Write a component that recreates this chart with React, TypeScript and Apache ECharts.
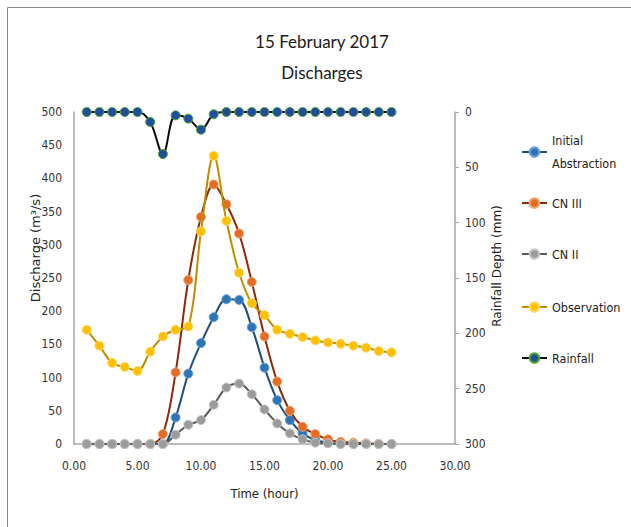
import React, { useEffect, useRef } from 'react';
import * as echarts from 'echarts';

const hours = [1, 2, 3, 4, 5, 6, 7, 8, 9, 10, 11, 12, 13, 14, 15, 16, 17, 18, 19, 20, 21, 22, 23, 24, 25];
const initialAbstraction = [0, 0, 0, 0, 0, 0, 0, 40, 106, 152, 191, 218, 217, 176, 115, 66, 36, 16, 6, 2, 0, 0, 0, 0, 0];
const cnIII = [0, 0, 0, 0, 0, 0, 15, 108, 247, 342, 391, 361, 317, 244, 162, 94, 50, 26, 15, 7, 3, 2, 1, 0, 0];
const cnII = [0, 0, 0, 0, 0, 0, 0, 14, 29, 36, 59, 85, 91, 75, 52, 31, 16, 7, 2, 1, 0, 0, 0, 0, 0];
const observation = [172, 148, 122, 116, 110, 139, 162, 172, 177, 320, 434, 336, 258, 212, 194, 172, 166, 161, 156, 153, 151, 148, 145, 140, 138];
const rainfall = [0, 0, 0, 0, 0, 9, 38, 3, 6, 16, 2, 0, 0, 0, 0, 0, 0, 0, 0, 0, 0, 0, 0, 0, 0];

const seriesNames = ['Initial Abstraction', 'CN III', 'CN II', 'Observation', 'Rainfall'];
const titleLines = ['15 February 2017', 'Discharges'];
const xName = 'Time (hour)';
const yLeftName = 'Discharge (m\u00b3/s)';
const yRightName = 'Rainfall Depth (mm)';

const narrow = '"DejaVu Sans Condensed", "Liberation Sans Narrow", Lato, sans-serif';
const calib = 'Lato, "DejaVu Sans Condensed", sans-serif';
const verd = '"DejaVu Sans", Verdana, sans-serif';

const styles = [
  { line: '#1f4e79', fill: '#2e75b6', border: '#6fa3d8' },
  { line: '#8e2a06', fill: '#e46c24', border: '#f2a36b' },
  { line: '#595959', fill: '#9b9b9b', border: '#c8c8c8' },
  { line: '#bf8f00', fill: '#ffc000', border: '#ffd966' },
  { line: '#0a0f0a', fill: '#1f4e9c', border: '#4ea72e' },
];

const dataSets = [initialAbstraction, cnIII, cnII, observation, rainfall];

export default function App() {
  const ref = useRef<HTMLDivElement>(null);
  useEffect(() => {
    document.body.style.margin = '0';
    const chart = echarts.init(ref.current!, null, { renderer: 'svg' });
    const series = seriesNames.map((name, i) => ({
      name,
      type: 'line',
      yAxisIndex: i === 4 ? 1 : 0,
      data: hours.map((h, k) => [h, dataSets[i][k]]),
      smooth: 0.35,
      symbol: 'circle',
      symbolSize: 9,
      lineStyle: { color: styles[i].line, width: 2 },
      itemStyle: { color: styles[i].fill, borderColor: styles[i].border, borderWidth: 1 },
      z: 2 + i,
    }));
    const legendCenters = [152, 203, 254, 307, 358];
    const legends = seriesNames.map((name, i) => {
      const base: any = {
        data: [name],
        left: 521,
        orient: 'vertical',
        itemWidth: 25,
        itemHeight: 12,
        itemGap: 0,
        padding: 0,
        textStyle: { fontFamily: narrow, fontSize: 12.5, color: '#222', lineHeight: 16 },
      };
      if (i === 0) {
        base.formatter = () => 'Initial\nAbstraction';
        base.textStyle = { ...base.textStyle, lineHeight: 23, padding: [23, 0, 0, 0] };
        base.top = legendCenters[i] - 34.5;
      } else {
        base.top = legendCenters[i] - 8;
      }
      return base;
    });
    const option: any = {
      animation: false,
      title: {
        text: titleLines.join('\n'),
        left: 317,
        top: 21,
        textAlign: 'center',
        textStyle: { fontFamily: calib, fontSize: 17, fontWeight: 'normal', color: '#1a1a1a', lineHeight: 31 },
      },
      legend: legends,
      grid: { left: 74, right: 176, top: 112, bottom: 83 },
      xAxis: {
        type: 'value',
        min: 0,
        max: 30,
        interval: 5,
        name: xName,
        nameLocation: 'middle',
        nameGap: 43,
        nameTextStyle: { fontFamily: narrow, fontSize: 13, color: '#222' },
        axisLine: { lineStyle: { color: '#a6a6a6', width: 1.5 } },
        axisTick: { show: false },
        splitLine: { show: false },
        axisLabel: { formatter: (v: number) => v.toFixed(2), fontFamily: narrow, fontSize: 12, color: '#333', margin: 16 },
      },
      yAxis: [
        {
          type: 'value',
          min: 0,
          max: 500,
          interval: 50,
          axisLine: { show: true, lineStyle: { color: '#a6a6a6', width: 1.5 } },
          axisTick: { show: false },
          splitLine: { show: false },
          axisLabel: { fontFamily: narrow, fontSize: 12, color: '#333', margin: 12 },
        },
        {
          type: 'value',
          min: 0,
          max: 300,
          interval: 50,
          inverse: true,
          position: 'right',
          axisLine: { show: true, lineStyle: { color: '#a6a6a6', width: 1.5 } },
          axisTick: { show: true, length: 4, lineStyle: { color: '#a6a6a6' } },
          splitLine: { show: false },
          axisLabel: { fontFamily: narrow, fontSize: 12, color: '#333', margin: 10 },
        },
      ],
      graphic: [
        {
          type: 'rect',
          shape: { x: 7.5, y: 7.5, width: 700, height: 600 },
          style: { fill: 'none', stroke: '#8a8a8a', lineWidth: 1 },
          silent: true,
        },
        {
          type: 'text',
          x: 35,
          y: 248,
          rotation: Math.PI / 2,
          style: { text: yLeftName, fontFamily: verd, fontSize: 13, fill: '#222', align: 'center', verticalAlign: 'middle' },
        },
        {
          type: 'text',
          x: 497,
          y: 266,
          rotation: Math.PI / 2,
          style: { text: yRightName, fontFamily: verd, fontSize: 12, fill: '#222', align: 'center', verticalAlign: 'middle' },
        },
      ],
      series,
    };
    chart.setOption(option);
    return () => chart.dispose();
  }, []);
  return <div ref={ref} style={{ width: 631, height: 527 }} />;
}
